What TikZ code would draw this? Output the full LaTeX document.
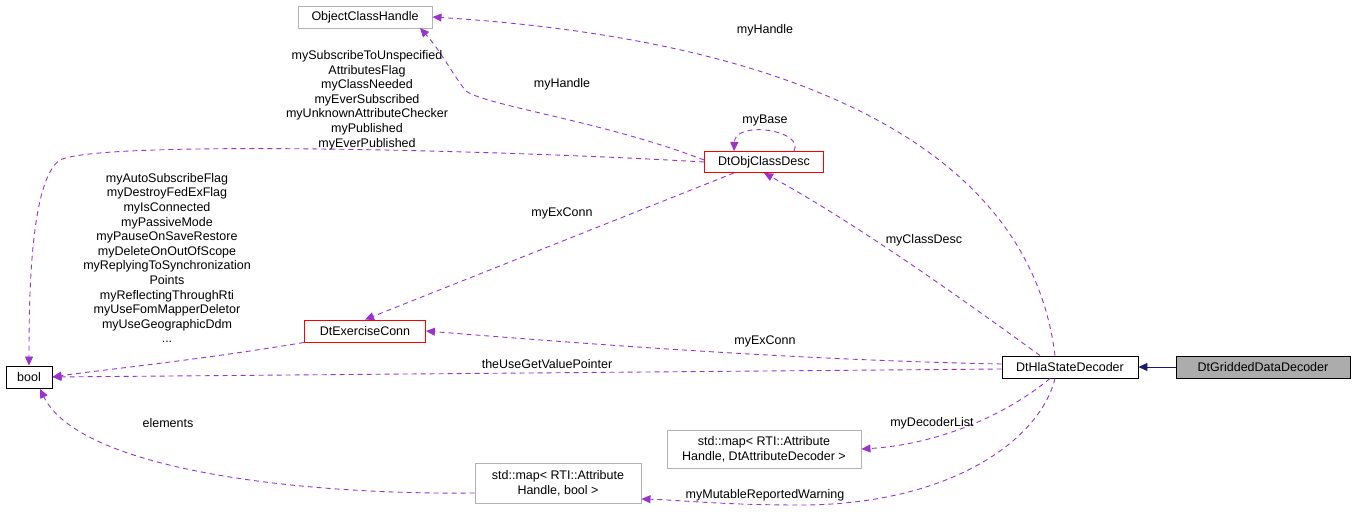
\documentclass[tikz,border=0pt]{standalone}
\usepackage{fontspec}
\setmainfont{Liberation Sans}
\usetikzlibrary{arrows.meta,calc}
\definecolor{edge}{HTML}{9A32CD}
\definecolor{navy}{HTML}{191970}
\begin{document}
\begin{tikzpicture}[x=1pt,y=-1pt,font=\fontsize{12.5}{14.6}\selectfont,line width=0.9pt,
 box/.style={draw,rectangle,inner sep=0pt,align=center},
 gbox/.style={box,draw=gray!60},
 rbox/.style={box,draw=red},
 rel/.style={draw=edge,dashed,dash pattern=on 5pt off 4pt,-{Triangle[length=9pt,width=8pt]},fill=none},
 lab/.style={align=center,inner sep=0pt,font=\fontsize{12.5}{14.6}\selectfont}]
\useasboundingbox (0,0) rectangle (1355,521);
\node[gbox,minimum width=134,minimum height=22] (och) at (365,17) {ObjectClassHandle};
\node[rbox,minimum width=119,minimum height=21] (ocd) at (764,162) {DtObjClassDesc};
\node[rbox,minimum width=121,minimum height=22] (ec) at (365,331) {DtExerciseConn};
\node[box,minimum width=46,minimum height=22] (bool) at (29,377) {bool};
\node[box,minimum width=136,minimum height=22] (hsd) at (1070,367) {DtHlaStateDecoder};
\node[box,fill=gray!65,minimum width=174,minimum height=22] (gdd) at (1263,367) {DtGriddedDataDecoder};
\node[gbox,minimum width=194,minimum height=38] (map1) at (764,449) {std::map\textless{} RTI::Attribute\\Handle, DtAttributeDecoder \textgreater};
\node[gbox,minimum width=166,minimum height=40] (map2) at (558,483) {std::map\textless{} RTI::Attribute\\Handle, bool \textgreater};

\draw[navy,-{Triangle[length=9pt,width=8pt]}] (gdd.west) -- (hsd.east);

\draw[rel] ($(hsd.north)+(-15,0)$) .. controls (1030,150) and (800,40) .. (och.east);
\node[lab] at (765,30) {myHandle};
\draw[rel] ($(ocd.west)+(0,-2)$) .. controls (600,120) and (480,105) .. (465,90) .. controls (450,70) and (440,50) .. (420,28);
\node[lab] at (562,84) {myHandle};
\draw[rel] ($(ocd.north)+(30,0)$) .. controls (805,130) and (735,120) .. ($(ocd.north)+(-30,0)$);
\node[lab] at (765,120) {myBase};
\draw[rel] (ocd.west) .. controls (500,150) and (100,140) .. (60,160) .. controls (30,180) and (29,300) .. (bool.north);
\node[lab] at (367,100) {mySubscribeToUnspecified\\AttributesFlag\\myClassNeeded\\myEverSubscribed\\myUnknownAttributeChecker\\myPublished\\myEverPublished};
\draw[rel] ($(hsd.north)+(-30,0)$) .. controls (950,290) and (850,220) .. (ocd.south);
\node[lab] at (924,240) {myClassDesc};
\draw[rel] ($(ocd.south)+(-30,0)$) -- (ec.north);
\node[lab] at (562,213) {myExConn};
\draw[rel] ($(hsd.west)+(0,-3)$) .. controls (800,360) and (600,345) .. (ec.east);
\node[lab] at (765,341) {myExConn};
\draw[rel] (ec.south west) .. controls (200,360) and (100,370) .. (bool.east);
\node[lab] at (167,258) {myAutoSubscribeFlag\\myDestroyFedExFlag\\myIsConnected\\myPassiveMode\\myPauseOnSaveRestore\\myDeleteOnOutOfScope\\myReplyingToSynchronization\\Points\\myReflectingThroughRti\\myUseFomMapperDeletor\\myUseGeographicDdm\\...};
\draw[rel] ($(hsd.west)+(0,2)$) -- (bool.east);
\node[lab] at (547,364) {theUseGetValuePointer};
\draw[rel] ($(map2.west)+(0,10)$) .. controls (300,495) and (80,470) .. (40,389);
\node[lab] at (168,423) {elements};
\draw[rel] ($(hsd.south)+(-20,0)$) .. controls (1000,420) and (930,445) .. (map1.east);
\node[lab] at (932,423) {myDecoderList};
\draw[rel] ($(hsd.south)+(-15,0)$) .. controls (1040,440) and (950,505) .. (800,505) .. controls (720,505) and (680,500) .. ($(map2.east)+(0,16)$);
\node[lab] at (765,495) {myMutableReportedWarning};
\end{tikzpicture}
\end{document}
